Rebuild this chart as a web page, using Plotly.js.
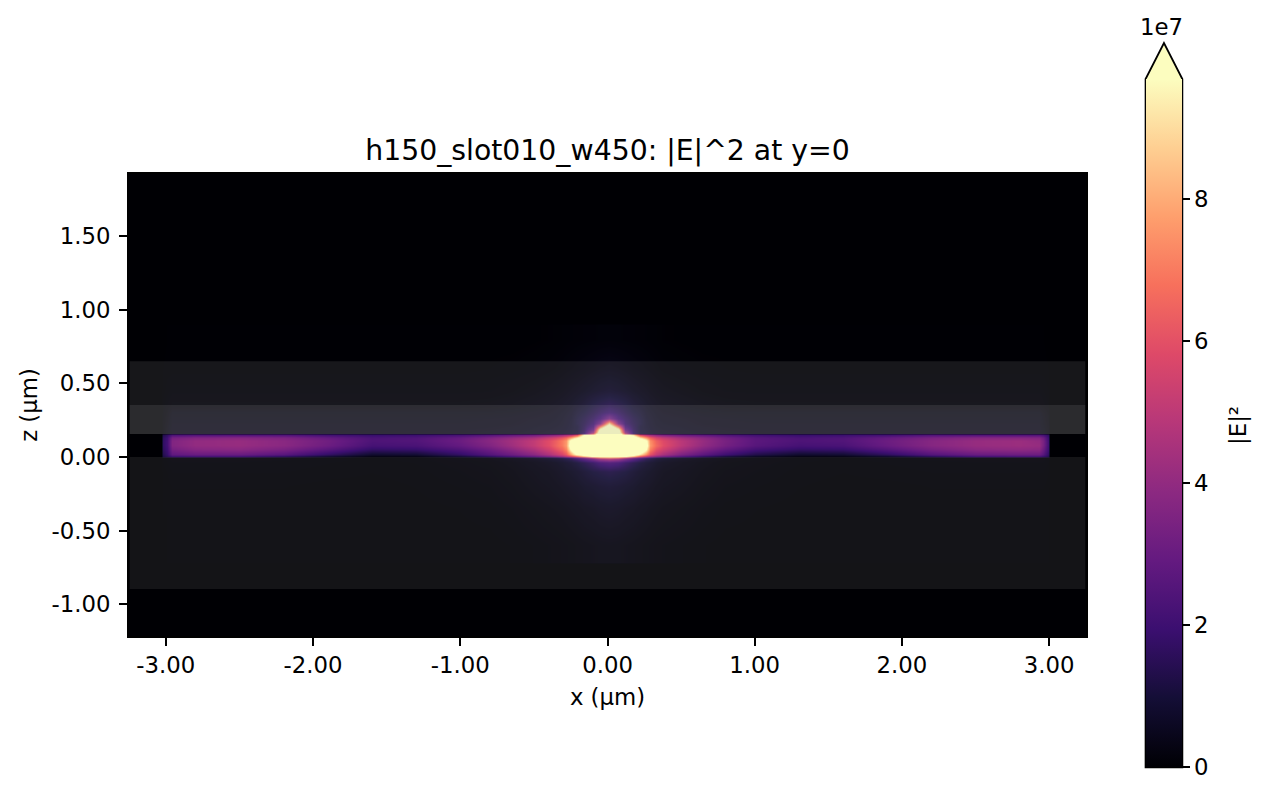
<!DOCTYPE html>
<html><head><meta charset="utf-8">
<script src="https://cdn.plot.ly/plotly-3.0.1.min.js"></script>
<style>html,body{margin:0;padding:0;background:#fff}#g{width:1265px;height:799px}</style>
</head><body><div id="g"></div>
<script>
const xTickVals=[-3,-2,-1,0,1,2,3];
const xTickText=["-3.00","-2.00","-1.00","0.00","1.00","2.00","3.00"];
const zTickVals=[-1,-0.5,0,0.5,1,1.5];
const zTickText=["-1.00","-0.50","0.00","0.50","1.00","1.50"];
const barTickVals=[0,2,4,6,8];
const barTickText=["0","2","4","6","8"];
// sample positions in µm
const zSamples=[-0.6,-0.35,-0.2,-0.1,-0.04,-0.012,-0.001,
 0.002,0.02,0.05,0.08,0.11,0.135,0.152,
 0.158,0.17,0.19,0.21,0.23,0.26,0.30,0.36,0.45,0.6,0.8];
const xSamples=[-3.25,-3.03,-3.02,-2.99,-2.96,-2.8,-2.5,-2.2,-1.9,-1.6,-1.3,-1.0,-0.8,-0.65,-0.5,-0.4,-0.35,-0.31,-0.28,-0.25,-0.21,-0.16,-0.10,-0.05,0.01,0.07,0.12,0.17,0.22,0.26,0.29,0.33,0.38,0.5,0.65,0.8,1.0,1.3,1.6,1.9,2.2,2.5,2.8,2.93,2.96,2.995,3.005,3.25];
// |E|^2 in units of 1e7, one list per x sample, bottom to top
const fieldColumns=[
[0,0,0,0,0,0,0, 0,0,0,0,0,0,0, 0,0,0,0,0,0,0,0,0,0,0],
[0,0,0,0,0,0,0, 0,0,0,0,0,0,0, 0,0,0,0,0,0,0,0,0,0,0],
[0,.01,.01,.02,.03,.04,.05, 1.2,1.4,1.6,1.7,1.7,1.6,1.3, .1,.1,.09,.09,.08,.07,.06,.04,.02,.01,0],
[.01,.01,.02,.03,.05,.06,.07, 1.5,1.8,2.0,2.1,2.1,2.0,1.6, .25,.24,.22,.2,.18,.16,.13,.07,.04,.02,.01],
[.01,.02,.03,.05,.07,.09,.1, 1.9,2.8,3.3,3.6,3.6,3.3,2.2, .4,.38,.36,.34,.32,.3,.26,.12,.06,.02,.01],
[.01,.02,.03,.05,.07,.09,.1, 2.0,3.0,3.7,4.0,4.0,3.6,2.3, .4,.38,.36,.34,.32,.3,.26,.12,.06,.02,.01],
[.01,.02,.03,.05,.07,.09,.1, 2.0,3.0,3.8,4.1,4.1,3.7,2.3, .4,.38,.36,.34,.32,.3,.26,.12,.06,.02,.01],
[.01,.02,.03,.05,.06,.08,.09, 1.5,2.6,3.4,3.8,3.8,3.5,2.3, .4,.38,.36,.34,.32,.3,.26,.12,.06,.02,.01],
[.01,.01,.02,.04,.05,.06,.07, .8,1.7,2.6,3.1,3.2,2.9,2.0, .4,.38,.36,.34,.32,.3,.26,.12,.06,.02,.01],
[.01,.01,.02,.03,.04,.04,.05, .25,.8,1.7,2.2,2.4,2.3,1.8, .4,.38,.36,.34,.32,.3,.26,.12,.06,.02,.01],
[.01,.02,.03,.04,.05,.06,.09, .3,.9,1.8,2.3,2.5,2.4,1.9, .4,.38,.36,.34,.32,.3,.26,.12,.06,.02,.01],
[.02,.03,.05,.07,.09,.11,.17, .9,1.7,2.4,2.9,3.1,2.9,2.1, .4,.38,.36,.34,.32,.3,.26,.12,.06,.02,.01],
[.02,.04,.07,.1,.13,.17,.27, 1.5,2.5,3.1,3.6,3.8,3.5,2.4, .42,.4,.38,.36,.34,.32,.27,.14,.07,.03,.01],
[.03,.07,.12,.16,.2,.28,.42, 2.1,3.1,3.8,4.3,4.4,4.0,2.7, .46,.44,.41,.39,.36,.34,.29,.18,.1,.04,.01],
[.05,.12,.2,.25,.32,.45,.7, 2.7,3.8,4.6,5.1,5.1,4.5,3.0, .52,.5,.47,.45,.42,.39,.34,.24,.15,.06,.02],
[.07,.16,.25,.32,.42,.65,1.0, 3.3,4.6,5.4,5.9,5.9,5.2,3.4, .58,.55,.52,.49,.46,.42,.38,.3,.2,.09,.03],
[.08,.18,.29,.38,.5,.8,1.2, 3.7,5.1,6.0,6.5,6.4,5.6,3.6, .62,.59,.55,.52,.49,.46,.42,.34,.23,.11,.04],
[.09,.2,.33,.44,.6,.95,1.5, 4.1,5.6,6.5,7.0,7.0,6.1,3.9, .68,.64,.61,.57,.54,.51,.47,.38,.26,.13,.05],
[.1,.22,.36,.5,.7,1.15,1.8, 4.6,6.2,7.2,7.7,7.6,6.6,4.2, .75,.7,.66,.62,.6,.58,.52,.42,.29,.15,.06],
[.11,.25,.4,.55,.8,1.35,2.2, 5.3,7.8,10,11,10.5,7.8,4.5, .85,.8,.76,.72,.7,.66,.6,.48,.33,.17,.07],
[.13,.28,.45,.65,1.0,1.9,3, 6.2,10,13,14,13,9.5,5.5, 1.0,.95,.92,.9,1.0,.95,.82,.6,.38,.2,.08],
[.15,.33,.55,.8,1.3,2.6,4, 7.8,12,15,16,15,12,9.8, 2,1.7,1.5,1.4,1.3,1.2,1.0,.75,.45,.23,.09],
[.17,.37,.62,1.0,1.7,3.5,6, 10,14,17,18,17,14,12, 6,4.5,3,2.3,1.9,1.6,1.3,1.0,.55,.28,.1],
[.19,.42,.7,1.1,2.1,4.5,7.5, 11,15,18,20,19,16,16, 14,12,10.5,7,3.5,2.1,1.6,1.15,.63,.32,.11],
[.2,.45,.75,1.2,2.3,5,8, 11,16,20,22,21,18,20, 20,18,15,12,9,3.5,1.9,1.3,.7,.35,.12],
[.19,.42,.7,1.1,2.1,4.5,7.5, 11,15,18,20,19,16,15, 13,11.5,10.5,7,3.5,2.1,1.6,1.15,.63,.32,.11],
[.17,.37,.62,1.0,1.7,3.5,6, 10,14,17,18,17,14,11, 5.5,4.2,2.9,2.2,1.8,1.6,1.3,1.0,.55,.28,.1],
[.15,.33,.55,.8,1.3,2.6,4, 7.8,12,15,16,15,12,8.8, 1.8,1.6,1.5,1.4,1.3,1.2,1.0,.75,.45,.23,.09],
[.13,.28,.45,.65,1.0,1.9,3, 5.8,9,12.5,13.5,12.5,9,5.3, 1.0,.95,.92,.9,1.0,.95,.82,.6,.38,.2,.08],
[.11,.25,.4,.55,.8,1.35,2.2, 4.8,7.3,9.7,10.5,10,7.5,4.5, .85,.8,.76,.72,.7,.66,.6,.48,.33,.17,.07],
[.1,.22,.36,.5,.7,1.15,1.8, 4.2,6,7.1,7.6,7.4,6.4,4.1, .75,.7,.66,.62,.6,.58,.52,.42,.29,.15,.06],
[.08,.19,.3,.4,.54,.85,1.3, 3.6,5.1,6.0,6.6,6.4,5.6,3.6, .64,.6,.56,.53,.5,.47,.43,.35,.24,.12,.05],
[.07,.16,.25,.32,.42,.65,1.0, 3.2,4.5,5.4,5.9,5.8,5.1,3.3, .58,.55,.52,.49,.46,.42,.38,.3,.2,.09,.03],
[.05,.12,.2,.25,.32,.45,.7, 2.4,3.5,4.4,4.9,4.9,4.4,2.9, .52,.5,.47,.45,.42,.39,.34,.24,.15,.06,.02],
[.03,.07,.12,.16,.2,.28,.42, 1.6,2.7,3.5,4.0,4.1,3.8,2.6, .46,.44,.41,.39,.36,.34,.29,.18,.1,.04,.01],
[.02,.04,.07,.1,.13,.17,.27, 1.0,2.0,2.8,3.3,3.4,3.2,2.3, .42,.4,.38,.36,.34,.32,.27,.14,.07,.03,.01],
[.02,.03,.05,.07,.09,.11,.17, .55,1.3,2.1,2.6,2.7,2.6,2.0, .4,.38,.36,.34,.32,.3,.26,.12,.06,.02,.01],
[.01,.02,.03,.04,.05,.06,.09, .25,.8,1.7,2.2,2.4,2.3,1.8, .4,.38,.36,.34,.32,.3,.26,.12,.06,.02,.01],
[.01,.01,.02,.03,.04,.04,.05, .3,.9,1.8,2.3,2.5,2.4,1.9, .4,.38,.36,.34,.32,.3,.26,.12,.06,.02,.01],
[.01,.01,.02,.04,.05,.06,.07, .7,1.6,2.5,3.0,3.1,2.9,2.0, .4,.38,.36,.34,.32,.3,.26,.12,.06,.02,.01],
[.01,.02,.03,.05,.06,.08,.09, 1.4,2.5,3.3,3.7,3.7,3.4,2.3, .4,.38,.36,.34,.32,.3,.26,.12,.06,.02,.01],
[.01,.02,.03,.05,.07,.09,.1, 2.0,3.0,3.8,4.1,4.1,3.7,2.3, .4,.38,.36,.34,.32,.3,.26,.12,.06,.02,.01],
[.01,.02,.03,.05,.07,.09,.1, 2.1,3.1,3.9,4.2,4.2,3.7,2.3, .4,.38,.36,.34,.32,.3,.26,.12,.06,.02,.01],
[.01,.02,.03,.05,.07,.09,.1, 2.1,3.1,3.8,4.1,4.0,3.6,2.3, .4,.38,.36,.34,.32,.3,.26,.12,.06,.02,.01],
[.01,.02,.03,.05,.07,.08,.09, 1.8,2.6,3.1,3.4,3.4,3.1,2.1, .32,.3,.28,.26,.24,.22,.19,.08,.05,.02,.01],
[.01,.01,.02,.03,.05,.06,.07, 1.4,1.7,2.0,2.1,2.1,2.0,1.6, .18,.17,.16,.15,.14,.12,.1,.05,.03,.01,0],
[0,0,0,0,0,0,0, 0,0,0,0,0,0,0, 0,0,0,0,0,0,0,0,0,0,0],
[0,0,0,0,0,0,0, 0,0,0,0,0,0,0, 0,0,0,0,0,0,0,0,0,0,0]
];
const magmaColors=["#000004","#140e36","#3b0f70","#641a80","#8c2981","#b73779","#de4968","#f7705c","#fe9f6d","#fecf92","#fcfdbf"];
const magmaStops=[0,0.1,0.2,0.3,0.4,0.5,0.6,0.7,0.8,0.9,1];
const fieldMax=9.69;
const F='"DejaVu Sans", sans-serif';
const S=22.8;

const trace={type:'heatmap',x:xSamples,y:zSamples,z:fieldColumns,transpose:true,zsmooth:'best',
 zmin:0,zmax:fieldMax,hoverinfo:'skip',
 colorscale:magmaStops.map((s,i)=>[s,magmaColors[i]]),
 colorbar:{xref:'paper',yref:'paper',x:1.06267,xanchor:'left',xpad:0,
  y:-0.28355,yanchor:'bottom',ypad:0,thickness:36,thicknessmode:'pixels',len:688,lenmode:'pixels',
  tickmode:'array',tickvals:barTickVals,ticktext:barTickText,ticks:'outside',ticklen:8,tickwidth:1.8,tickcolor:'#000',
  tickfont:{family:F,size:S,color:'#000'},outlinewidth:0,borderwidth:0}};

const band=(z0,z1,a)=>({type:'rect',xref:'x',yref:'y',x0:-3.245,x1:3.245,y0:z0,y1:z1,layer:'above',
 fillcolor:`rgba(184,184,184,${a})`,line:{width:0}});
const layout={width:1265,height:799,paper_bgcolor:'#fff',plot_bgcolor:'#000004',
 margin:{l:128.6,r:179,t:174,b:163,pad:0,autoexpand:false},font:{family:F,size:S,color:'#000'},
 title:{text:'h150_slot010_w450: |E|^2 at y=0',font:{family:F,size:28.3,color:'#000'},xref:'paper',x:0.5,xanchor:'center',yref:'container',y:1-150/799,yanchor:'middle'},
 xaxis:{range:[-3.25,3.25],tickmode:'array',tickvals:xTickVals,ticktext:xTickText,ticks:'outside',ticklen:8,tickwidth:1.8,tickcolor:'#000',
  showline:true,mirror:true,linecolor:'#000',linewidth:1.8,showgrid:false,zeroline:false,automargin:false,
  title:{text:'x (µm)',standoff:12,font:{family:F,size:S}},tickfont:{family:F,size:S}},
 yaxis:{range:[-1.215,1.921],tickmode:'array',tickvals:zTickVals,ticktext:zTickText,ticks:'outside',ticklen:8,tickwidth:1.8,tickcolor:'#000',
  showline:true,mirror:true,linecolor:'#000',linewidth:1.8,showgrid:false,zeroline:false,automargin:false,ticklabelstandoff:4,
  title:{text:'z (µm)',standoff:8,font:{family:F,size:S}},tickfont:{family:F,size:S}},
 shapes:[band(0.353,0.65,0.125),band(0.156,0.353,0.234),band(-0.896,0,0.11),
  {type:'path',xref:'paper',yref:'paper',path:'M1.06267,1.20563 L1.08147,1.28355 L1.10029,1.20563 Z',fillcolor:'#fcfdbf',line:{width:0}},
  {type:'path',xref:'paper',yref:'paper',path:'M1.06225,-0.28442 L1.06225,1.20563 L1.08147,1.28355 L1.10069,1.20563 L1.10069,-0.28442 Z',fillcolor:'rgba(0,0,0,0)',line:{color:'#000',width:1.8}}],
 annotations:[
  {xref:'paper',yref:'paper',x:1.07886,y:1.31818,text:'1e7',showarrow:false,xanchor:'center',yanchor:'middle',font:{family:F,size:S,color:'#000'}},
  {xref:'paper',yref:'paper',x:1.15876,y:0.45671,text:'|E|²',textangle:-90,showarrow:false,xanchor:'center',yanchor:'middle',font:{family:F,size:S,color:'#000'}}]};
Plotly.newPlot('g',[trace],layout,{displayModeBar:false,responsive:false});
</script></body></html>
